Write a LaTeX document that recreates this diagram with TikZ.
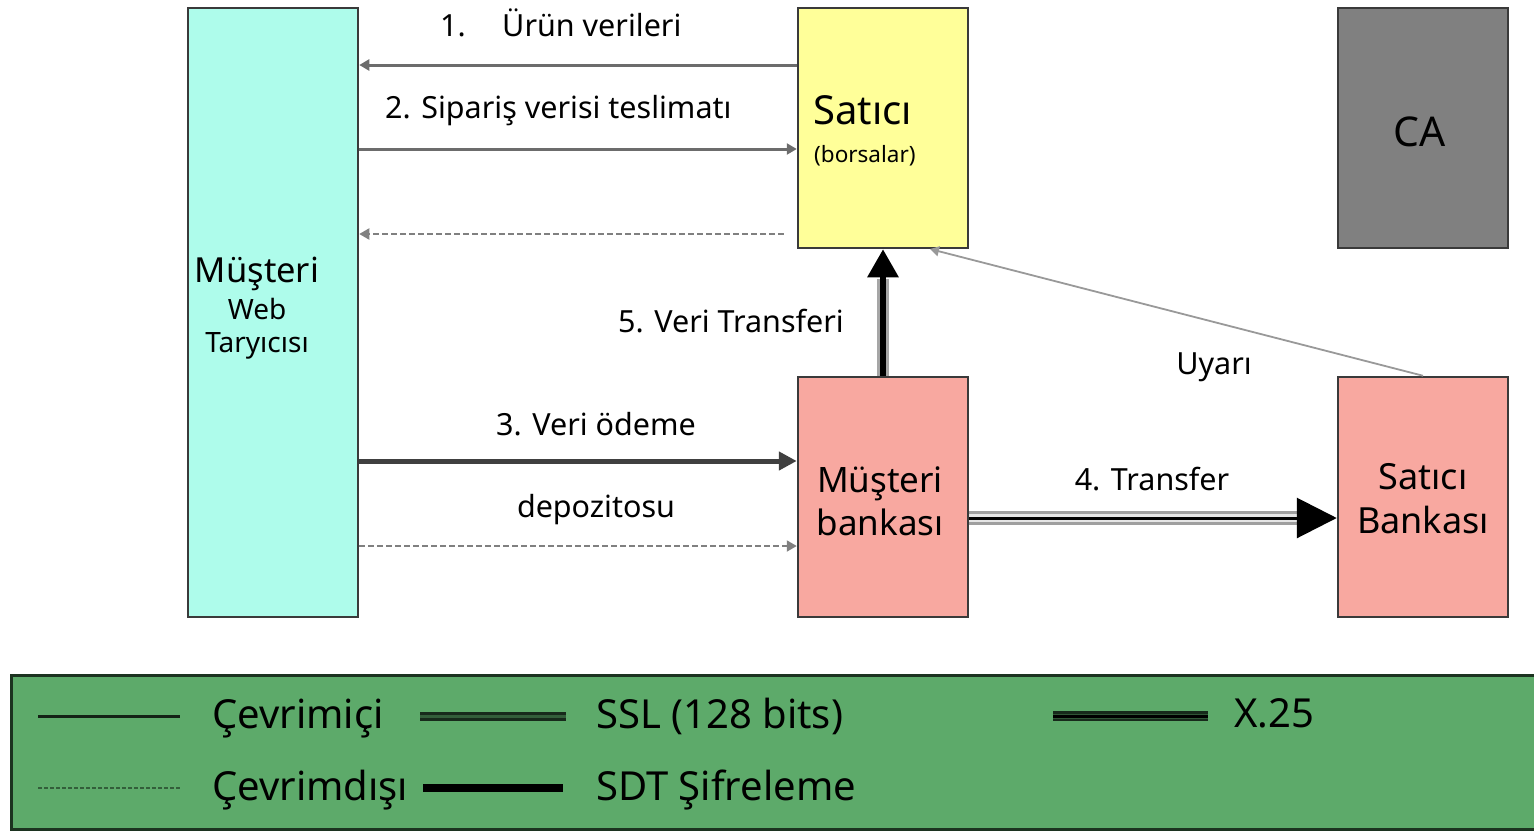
\documentclass[tikz,border=0pt]{standalone}
\usepackage{fontspec}
\setmainfont{Noto Sans}
\usetikzlibrary{arrows.meta}
\definecolor{aqua}{HTML}{AEFCEB}
\definecolor{lemon}{HTML}{FFFF99}
\definecolor{salmon}{HTML}{F8A8A0}
\definecolor{slate}{HTML}{808080}
\definecolor{legendgreen}{HTML}{5DAA6A}
\definecolor{edge}{HTML}{3A3A3A}
\newcommand{\fs}[1]{\fontsize{#1}{#1}\selectfont}
\begin{document}
\begin{tikzpicture}[x=1pt,y=-1pt,
  box/.style={draw=edge, line width=2.5pt, minimum width=170pt, inner sep=0pt, align=center},
  lbl/.style={inner sep=0pt, font=\fs{30.5}},
  blbl/.style={lbl, anchor=base},
  wlbl/.style={lbl, anchor=base west},
  leg/.style={inner sep=0pt, anchor=base west, font=\fs{40}},
  online/.style={draw=gray!85!black, line width=3pt, -{Triangle[length=10pt,width=11pt]}},
  offline/.style={draw=gray, line width=2pt, dash pattern=on 6pt off 3pt, -{Triangle[length=10pt,width=11pt]}},
  ssl/.style={draw=black!75, line width=5pt, -{Triangle[length=18pt,width=18pt]}},
]
\useasboundingbox (0,0) rectangle (1534,830);

% boxes
\node[box, fill=aqua, minimum height=609pt] (client) at (273,312.5) {};
\node[box, fill=lemon, minimum height=240pt] (seller) at (883,128) {};
\node[box, fill=slate, minimum height=240pt] (ca) at (1423,128) {};
\node[box, fill=salmon, minimum height=240pt] (cbank) at (883,497) {};
\node[box, fill=salmon, minimum height=240pt] (sbank) at (1423,497) {};

% box texts
\node[blbl, font=\fs{34.5}] at (257,282) {Müşteri};
\node[blbl, font=\fs{28}] at (257,319) {Web};
\node[blbl, font=\fs{28}] at (257,352) {Taryıcısı};
\node[wlbl, font=\fs{40}] at (813,124) {Satıcı};
\node[wlbl, font=\fs{22.5}] at (814,162) {(borsalar)};
\node[blbl, font=\fs{41}] at (1420,146) {CA};
\node[blbl, font=\fs{35}] at (880,492) {Müşteri};
\node[blbl, font=\fs{35}] at (880,535) {bankası};
\node[blbl, font=\fs{36}] at (1423,489) {Satıcı};
\node[blbl, font=\fs{36}] at (1423,533) {Bankası};

% client <-> seller messages
\draw[online] (seller.west |- 0,65) -- (client.east |- 0,65);
\draw[online] (client.east |- 0,149) -- (seller.west |- 0,149);
\draw[offline] ([xshift=-13pt]seller.west |- 0,234) -- (client.east |- 0,234);
\node[wlbl] at (440,36) {1.};
\node[wlbl] at (502,36) {Ürün verileri};
\node[wlbl] at (385,118) {2. Sipariş verisi teslimatı};

% client -> customer bank
\draw[ssl] (client.east |- 0,461) -- (cbank.west |- 0,461);
\draw[offline] (client.east |- 0,546) -- (cbank.west |- 0,546);
\node[blbl] at (596,435) {3. Veri ödeme};
\node[blbl] at (596,517) {depozitosu};

% customer bank -> seller (SDT)
\draw[draw=gray!70, line width=12pt] (cbank.north) -- ([yshift=-30pt]seller.south);
\draw[draw=black, line width=6pt, -{Triangle[length=28pt,width=30pt]}] (cbank.north) -- (seller.south);
\node[blbl] at (731,332) {5. Veri Transferi};

% customer bank -> seller bank (X.25)
\draw[draw=gray!75, line width=14pt] (cbank.east |- 0,518) -- ([xshift=-40pt]sbank.west |- 0,518);
\draw[draw=white!80!gray, line width=8pt] (cbank.east |- 0,518) -- ([xshift=-40pt]sbank.west |- 0,518);
\draw[draw=black, line width=3pt, -{Triangle[length=40pt,width=40pt]}] (cbank.east |- 0,518) -- (sbank.west |- 0,518);
\node[blbl] at (1152,490) {4. Transfer};

% alert from seller bank
\coordinate (alertend) at (930,249);
\draw[draw=gray!80, line width=1.8pt, -{Triangle[length=9pt,width=10pt]}] (sbank.north) -- (alertend);
\node[blbl] at (1214,374) {Uyarı};

% legend
\node[draw=black!70!legendgreen, line width=3pt, fill=legendgreen, minimum width=1540pt, minimum height=154pt, inner sep=0pt, anchor=north west] (legend) at (10,674) {};
\coordinate (l1a) at (38,716); \coordinate (l1b) at (180,716);
\draw[draw=black!80!legendgreen, line width=3pt] (l1a) -- (l1b);
\node[leg] at (212,728) {Çevrimiçi};
\coordinate (l2a) at (38,788); \coordinate (l2b) at (180,788);
\draw[draw=black!45!legendgreen, line width=2pt, dash pattern=on 4pt off 2pt] (l2a) -- (l2b);
\node[leg] at (212,800) {Çevrimdışı};
\coordinate (l3a) at (420,716); \coordinate (l3b) at (566,716);
\draw[draw=black!75!legendgreen, line width=9pt] (l3a) -- (l3b);
\draw[draw=black!45!legendgreen, line width=3pt] (l3a) -- (l3b);
\node[leg] at (596,728) {SSL (128 bits)};
\coordinate (l4a) at (423,788); \coordinate (l4b) at (563,788);
\draw[draw=black, line width=8pt] (l4a) -- (l4b);
\node[leg] at (596,800) {SDT Şifreleme};
\coordinate (l5a) at (1053,716); \coordinate (l5b) at (1208,716);
\draw[draw=black!75!legendgreen, line width=10pt] (l5a) -- (l5b);
\draw[draw=black!50!legendgreen, line width=5pt] (l5a) -- (l5b);
\draw[draw=black, line width=3pt] (l5a) -- (l5b);
\node[leg] at (1234,727) {X.25};
\end{tikzpicture}
\end{document}
